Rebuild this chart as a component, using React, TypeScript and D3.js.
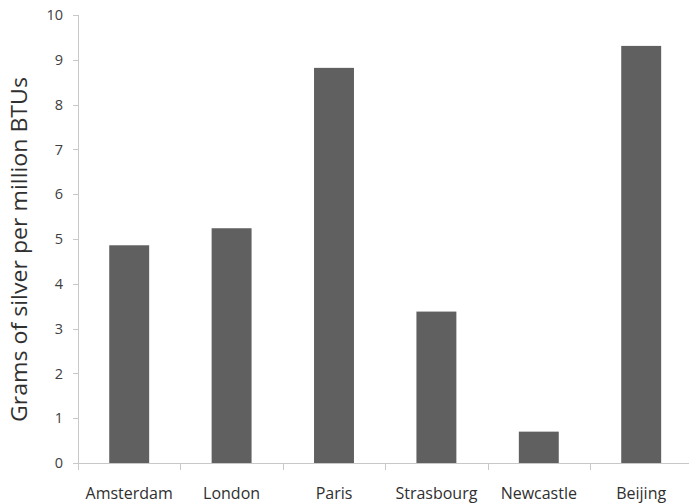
import React from "react";
import * as d3 from "d3";

const categories = ["Amsterdam", "London", "Paris", "Strasbourg", "Newcastle", "Beijing"];
const values = [4.86, 5.24, 8.82, 3.38, 0.7, 9.31];
const yTicks = [0, 1, 2, 3, 4, 5, 6, 7, 8, 9, 10];
const yLabel = "Grams of silver per million BTUs";

const W = 689;
const H = 504;
const left = 78;
const right = 692.4;
const top = 15;
const bottom = 463;

export default function App() {
  const x = d3.scaleBand<string>().domain(categories).range([left, right]).paddingInner(0.61).paddingOuter(0.305);
  const y = d3.scaleLinear().domain([0, 10]).range([bottom, top]);
  const axisColor = "#c8c8c8";
  const font = "'Open Sans', 'Liberation Sans', sans-serif";
  const step = x.step();
  const boundaries = d3.range(categories.length + 1).map((i) => left + i * step);
  return (
    <svg width={W} height={H} style={{ position: "absolute", left: 0, top: 0 }}>
      <rect x={0} y={0} width={W} height={H} fill="#fff" />
      {/* y axis */}
      <line x1={left + 0.5} x2={left + 0.5} y1={top} y2={bottom} stroke={axisColor} strokeWidth={1} />
      {yTicks.map((t) => (
        <g key={t}>
          <line x1={left - 5} x2={left} y1={Math.round(y(t)) + 0.5} y2={Math.round(y(t)) + 0.5} stroke={axisColor} />
          <text x={63} y={y(t)} dy="0.36em" textAnchor="end" fontFamily={font} fontSize={14.5} fill="#404040">
            {t}
          </text>
        </g>
      ))}
      {/* bars */}
      {categories.map((c, i) => (
        <rect key={c} x={x(c)} y={y(values[i])} width={x.bandwidth()} height={bottom - y(values[i])} fill="#606060" />
      ))}
      {/* x axis */}
      <line x1={left - 5} x2={W} y1={bottom + 0.5} y2={bottom + 0.5} stroke={axisColor} />
      {boundaries.map((b, i) => (
        <line key={i} x1={Math.round(b) + 0.5} x2={Math.round(b) + 0.5} y1={bottom} y2={bottom + 7} stroke={axisColor} />
      ))}
      {categories.map((c) => (
        <text key={c} x={(x(c) as number) + x.bandwidth() / 2} y={498.5} textAnchor="middle" fontFamily={font} fontSize={16} fill="#303030">
          {c}
        </text>
      ))}
      <text
        transform={`translate(27, 249.5) rotate(-90)`}
        textAnchor="middle"
        fontFamily={font}
        fontSize={22}
        fill="#303030"
        textLength={345}
        lengthAdjust="spacingAndGlyphs"
      >
        {yLabel}
      </text>
    </svg>
  );
}
